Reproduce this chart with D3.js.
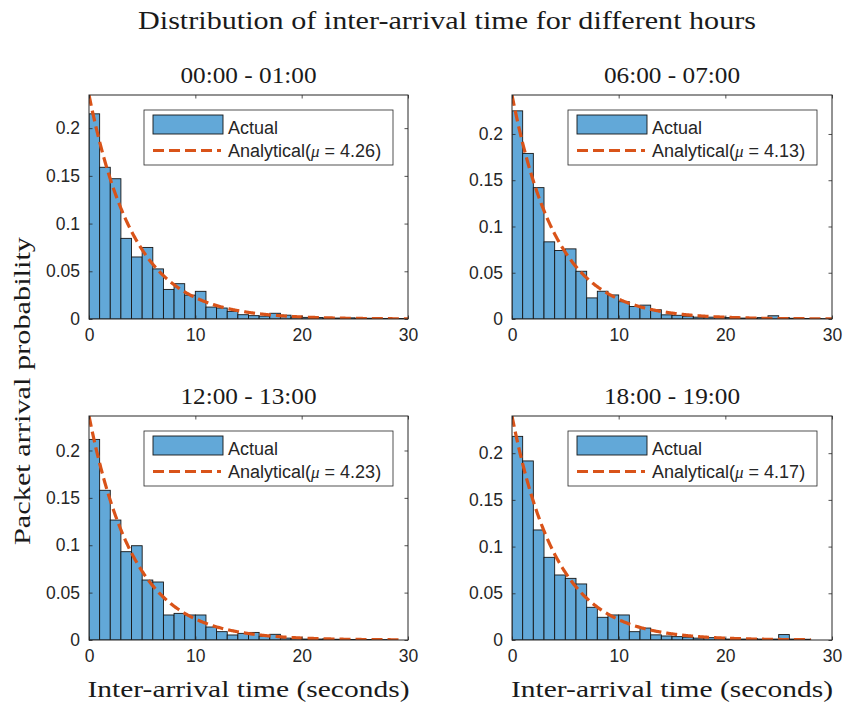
<!DOCTYPE html>
<html>
<head>
<meta charset="utf-8">
<script src="https://cdn.jsdelivr.net/npm/d3@7"></script>
<style>
  body { margin: 0; background: #fff; }
  svg { display: block; }
</style>
</head>
<body>
<svg id="chart" width="847" height="704"></svg>
<script>
// ---- data ----------------------------------------------------------------
const panelTitles = ["00:00 - 01:00", "06:00 - 07:00", "12:00 - 13:00", "18:00 - 19:00"];
const muValues = [4.26, 4.13, 4.23, 4.17];           // fitted mean inter-arrival time
const curveEnds = [30, 30, 29.5, 28];                // largest observed inter-arrival time
const binWidth = 1;                                  // histogram bin width (seconds)

// normalised histogram heights, bins [0,1), [1,2), ...
const probHour00 = [0.215, 0.159, 0.147, 0.0845, 0.065, 0.075, 0.0525, 0.031, 0.037, 0.025,
                    0.029, 0.0125, 0.0115, 0.008, 0.0045, 0.0035, 0.003, 0.006, 0.004, 0.002,
                    0.0017, 0.0015, 0.001, 0.001, 0.0012, 0.0008, 0.0008, 0.0006, 0.0005, 0.0005];
const probHour06 = [0.225, 0.179, 0.142, 0.0834, 0.074, 0.0758, 0.0516, 0.0228, 0.030, 0.026,
                    0.0187, 0.0135, 0.015, 0.010, 0.0045, 0.004, 0.003, 0.002, 0.002, 0.002,
                    0.0015, 0.001, 0.001, 0.0015, 0.0035, 0.0015, 0.0008, 0.0005, 0.0005, 0.0004];
const probHour12 = [0.2117, 0.158, 0.1266, 0.0932, 0.0995, 0.0633, 0.0612, 0.0264, 0.0281, 0.0264,
                    0.0264, 0.0137, 0.0088, 0.0053, 0.007, 0.008, 0.004, 0.006, 0.002, 0.0015,
                    0.001, 0.001, 0.0012, 0.0008, 0.0006, 0.0006, 0.0005, 0.0004, 0.0003];
const probHour18 = [0.218, 0.1917, 0.1178, 0.0885, 0.0696, 0.066, 0.060, 0.035, 0.0243, 0.0268,
                    0.0268, 0.0089, 0.0128, 0.0055, 0.0043, 0.0036, 0.003, 0.002, 0.0025, 0.0015,
                    0.001, 0.001, 0.0015, 0.001, 0.001, 0.0058, 0.001, 0.0008];
const histograms = [probHour00, probHour06, probHour12, probHour18];

const xTicks = [0, 10, 20, 30];
const yTicks = [0, 0.05, 0.1, 0.15, 0.2];
const yTickLabels = ["0", "0.05", "0.1", "0.15", "0.2"];
const xDomain = [0, 30];

const figureTitle = "Distribution of inter-arrival time for different hours";
const xLabel = "Inter-arrival time (seconds)";
const yLabel = "Packet arrival probability";
const legendActual = "Actual";

// ---- layout & style ------------------------------------------------------
const frames = [
  { x: 89,  y: 95,  w: 319, h: 224 },
  { x: 512, y: 95,  w: 320, h: 224 },
  { x: 89,  y: 416, w: 319, h: 224 },
  { x: 512, y: 416, w: 320, h: 224 }
];
const SERIF = "'Liberation Serif', 'DejaVu Serif', serif";
const SANS = "'Liberation Sans', Arial, Helvetica, sans-serif";
const AXIS_COLOR = "#262626";
const BAR_FILL = "#62a8d8";
const BAR_EDGE = "#161616";
const CURVE_COLOR = "#d95319";
const TICK_LEN = 3.5;

const svg = d3.select("#chart");

// stretch a serif text to a given rendered width (Computer Modern is wide)
function fitWidth(sel, width) {
  sel.attr("textLength", width).attr("lengthAdjust", "spacingAndGlyphs");
  return sel;
}

// figure title
fitWidth(svg.append("text")
  .attr("x", 447).attr("y", 29)
  .attr("text-anchor", "middle")
  .attr("font-family", SERIF).attr("font-size", 25)
  .attr("fill", "#1a1a1a")
  .text(figureTitle), 618);

// shared y label
fitWidth(svg.append("text")
  .attr("transform", "translate(30,391) rotate(-90)")
  .attr("text-anchor", "middle")
  .attr("font-family", SERIF).attr("font-size", 24)
  .attr("fill", "#1a1a1a")
  .text(yLabel), 308);

const defs = svg.append("defs");

frames.forEach((f, i) => {
  const mu = muValues[i];
  const probs = histograms[i];
  const yMax = 1 / mu;   // axis top = peak of the analytical density

  const x = d3.scaleLinear().domain(xDomain).range([f.x, f.x + f.w]);
  const y = d3.scaleLinear().domain([0, yMax]).range([f.y + f.h, f.y]);

  const clipId = "clip" + i;
  defs.append("clipPath").attr("id", clipId)
    .append("rect").attr("x", f.x).attr("y", f.y).attr("width", f.w).attr("height", f.h);

  const g = svg.append("g");

  // histogram bars
  const bins = probs.map((p, k) => ({ x0: k * binWidth, x1: (k + 1) * binWidth, p }));
  g.append("g").attr("clip-path", `url(#${clipId})`)
    .selectAll("rect").data(bins).join("rect")
    .attr("x", d => x(d.x0))
    .attr("y", d => y(d.p))
    .attr("width", d => x(d.x1) - x(d.x0))
    .attr("height", d => y(0) - y(d.p))
    .attr("fill", BAR_FILL)
    .attr("stroke", BAR_EDGE)
    .attr("stroke-width", 0.9);

  // analytical exponential density (1/mu) exp(-t/mu)
  const curve = d3.range(0, 401).map(k => {
    const t = curveEnds[i] * k / 400;
    return [t, Math.exp(-t / mu) / mu];
  });
  g.append("path")
    .attr("clip-path", `url(#${clipId})`)
    .datum(curve)
    .attr("d", d3.line().x(d => x(d[0])).y(d => y(d[1])))
    .attr("fill", "none")
    .attr("stroke", CURVE_COLOR)
    .attr("stroke-width", 3.2)
    .attr("stroke-dasharray", "11,5");

  // axes (ticks inward on all four sides)
  const tickFmt = (d) => yTickLabels[yTicks.indexOf(d)];
  const axB = g.append("g").attr("transform", `translate(0,${f.y + f.h})`)
    .call(d3.axisBottom(x).tickValues(xTicks).tickSizeInner(-TICK_LEN).tickSizeOuter(0).tickPadding(10));
  const axT = g.append("g").attr("transform", `translate(0,${f.y})`)
    .call(d3.axisTop(x).tickValues(xTicks).tickSizeInner(-TICK_LEN).tickSizeOuter(0).tickFormat(""));
  const axL = g.append("g").attr("transform", `translate(${f.x},0)`)
    .call(d3.axisLeft(y).tickValues(yTicks).tickFormat(tickFmt).tickSizeInner(-TICK_LEN).tickSizeOuter(0).tickPadding(9));
  const axR = g.append("g").attr("transform", `translate(${f.x + f.w},0)`)
    .call(d3.axisRight(y).tickValues(yTicks).tickSizeInner(-TICK_LEN).tickSizeOuter(0).tickFormat(""));
  [axB, axT, axL, axR].forEach(a => {
    a.select(".domain").remove();
    a.selectAll("line").attr("stroke", AXIS_COLOR).attr("stroke-width", 0.8);
    a.selectAll("text").attr("font-family", SANS).attr("font-size", 17.5).attr("fill", AXIS_COLOR);
  });
  axB.selectAll("text").attr("dy", "0.71em");

  // frame
  g.append("rect")
    .attr("x", f.x).attr("y", f.y).attr("width", f.w).attr("height", f.h)
    .attr("fill", "none").attr("stroke", AXIS_COLOR).attr("stroke-width", 1);

  // subplot title
  fitWidth(g.append("text")
    .attr("x", f.x + f.w / 2).attr("y", f.y - 12)
    .attr("text-anchor", "middle")
    .attr("font-family", SERIF).attr("font-size", 24)
    .attr("fill", "#1a1a1a")
    .text(panelTitles[i]), 136);

  // x label under bottom row
  if (i >= 2) {
    fitWidth(g.append("text")
      .attr("x", f.x + f.w / 2).attr("y", 697)
      .attr("text-anchor", "middle")
      .attr("font-family", SERIF).attr("font-size", 24)
      .attr("fill", "#1a1a1a")
      .text(xLabel), 322);
  }

  // legend
  const lw = 249, lh = 55;
  const lx = f.x + f.w - 15 - lw, ly = f.y + 15;
  const leg = g.append("g").attr("transform", `translate(${lx},${ly})`);
  leg.append("rect").attr("width", lw).attr("height", lh)
    .attr("fill", "#fff").attr("stroke", AXIS_COLOR).attr("stroke-width", 0.8);
  leg.append("rect").attr("x", 9).attr("y", 5).attr("width", 70).attr("height", 19)
    .attr("fill", BAR_FILL).attr("stroke", BAR_EDGE).attr("stroke-width", 0.9);
  leg.append("text").attr("x", 84).attr("y", 24)
    .attr("font-family", SANS).attr("font-size", 18).attr("fill", AXIS_COLOR)
    .text(legendActual);
  leg.append("line").attr("x1", 9).attr("x2", 77).attr("y1", 40.5).attr("y2", 40.5)
    .attr("stroke", CURVE_COLOR).attr("stroke-width", 3.2).attr("stroke-dasharray", "11,5");
  const t2 = leg.append("text").attr("x", 84).attr("y", 47)
    .attr("font-family", SANS).attr("font-size", 18).attr("fill", AXIS_COLOR);
  t2.append("tspan").text("Analytical(");
  t2.append("tspan").attr("font-style", "italic").attr("font-family", SERIF).attr("font-size", 17).text("\u03bc");
  t2.append("tspan").text(" = " + mu.toFixed(2) + ")");
});
</script>
</body>
</html>
